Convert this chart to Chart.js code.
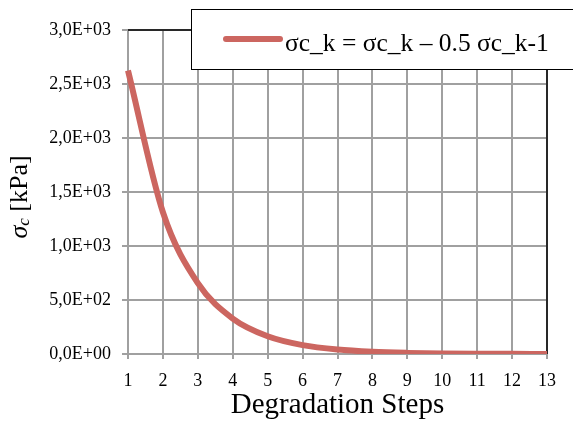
<!DOCTYPE html>
<html>
<head>
<meta charset="utf-8">
<script src="https://cdn.jsdelivr.net/npm/chart.js@4/dist/chart.umd.min.js"></script>
<style>
  html, body { margin: 0; padding: 0; background: #fff; }
  #wrap { width: 573px; height: 423px; }
</style>
</head>
<body>
<div id="wrap"><canvas id="chart"></canvas></div>
<script>
const steps = ['1', '2', '3', '4', '5', '6', '7', '8', '9', '10', '11', '12', '13'];
const sigmaC = [2625, 1312, 656, 328, 164, 82, 41, 20.5, 10.3, 5.1, 2.6, 1.3, 0.6];
const seriesLabel = 'σc_k = σc_k – 0.5 σc_k-1';
const yTicks = [0, 500, 1000, 1500, 2000, 2500, 3000];

const serif = '"Liberation Serif", "DejaVu Serif", serif';
const gridColor = '#a0a0a0';
const lineColor = '#cc6660';

// Excel style 3,0E+03
function sciLabel(v) {
    const parts = Number(v).toExponential(1).split('e');
    const mant = parts[0].replace('.', ',');
    let exp = parseInt(parts[1], 10);
    const sign = exp < 0 ? '-' : '+';
    exp = Math.abs(exp);
    return mant + 'E' + sign + (exp < 10 ? '0' + exp : exp);
}

const framePlugin = {
    id: 'frame',
    beforeDatasetsDraw(chart) {
        const { ctx, chartArea: a } = chart;
        ctx.save();
        ctx.strokeStyle = '#000';
        ctx.lineWidth = 1.5;
        ctx.beginPath();
        ctx.moveTo(a.left, a.top);
        ctx.lineTo(a.right, a.top);
        ctx.lineTo(a.right, a.bottom);
        ctx.stroke();
        ctx.restore();
    },
    afterDraw(chart) {
        const { ctx } = chart;
        ctx.save();
        // legend box
        ctx.fillStyle = '#fff';
        ctx.fillRect(191, 9, 400, 60);
        ctx.strokeStyle = '#000';
        ctx.lineWidth = 1;
        ctx.strokeRect(191.5, 9.5, 400, 60);
        ctx.strokeStyle = lineColor;
        ctx.lineWidth = 6;
        ctx.lineCap = 'round';
        ctx.beginPath();
        ctx.moveTo(226, 39);
        ctx.lineTo(280, 39);
        ctx.stroke();
        ctx.fillStyle = '#000';
        ctx.font = '25.5px ' + serif;
        ctx.textBaseline = 'alphabetic';
        ctx.fillText(seriesLabel, 285, 51);

        // y axis title: italic sigma with subscript c
        ctx.translate(20, 197);
        ctx.rotate(-Math.PI / 2);
        const pieces = [
            { t: 'σ', f: 'italic 26px ' + serif, dy: 0 },
            { t: 'c', f: 'italic 17px ' + serif, dy: 5 },
            { t: ' [kPa]', f: '26px ' + serif, dy: 0 }
        ];
        let total = 0;
        pieces.forEach(p => { ctx.font = p.f; total += ctx.measureText(p.t).width; });
        let x = -total / 2;
        ctx.textBaseline = 'middle';
        pieces.forEach(p => {
            ctx.font = p.f;
            ctx.fillText(p.t, x, p.dy);
            x += ctx.measureText(p.t).width;
        });
        ctx.restore();
    }
};

new Chart(document.getElementById('chart'), {
    type: 'line',
    data: {
        labels: steps,
        datasets: [{
            label: seriesLabel,
            data: sigmaC,
            borderColor: lineColor,
            borderWidth: 6,
            pointRadius: 0,
            cubicInterpolationMode: 'monotone',
            fill: false
        }]
    },
    options: {
        responsive: true,
        maintainAspectRatio: false,
        animation: false,
        layout: { padding: { left: 0, right: 26, top: 30, bottom: 0 } },
        plugins: {
            legend: { display: false },
            tooltip: { enabled: false }
        },
        scales: {
            x: {
                offset: false,
                grid: { color: gridColor, lineWidth: 2, tickLength: 5 },
                border: { color: gridColor, width: 2 },
                ticks: { color: '#000', font: { family: serif, size: 18 }, padding: 11, maxRotation: 0 },
                title: { display: true, text: 'Degradation Steps', color: '#000', font: { family: serif, size: 29 }, padding: { top: 0, bottom: 0 } },
                afterFit(s) { s.height = 69; }
            },
            y: {
                min: 0,
                max: 3000,
                afterBuildTicks(s) { s.ticks = yTicks.map(v => ({ value: v })); },
                grid: { color: gridColor, lineWidth: 2, tickLength: 6 },
                border: { color: gridColor, width: 2 },
                ticks: { color: '#000', font: { family: serif, size: 18 }, padding: 11, callback: v => sciLabel(v) },
                afterFit(s) { s.width = 128; }
            }
        }
    },
    plugins: [framePlugin]
});
</script>
</body>
</html>
